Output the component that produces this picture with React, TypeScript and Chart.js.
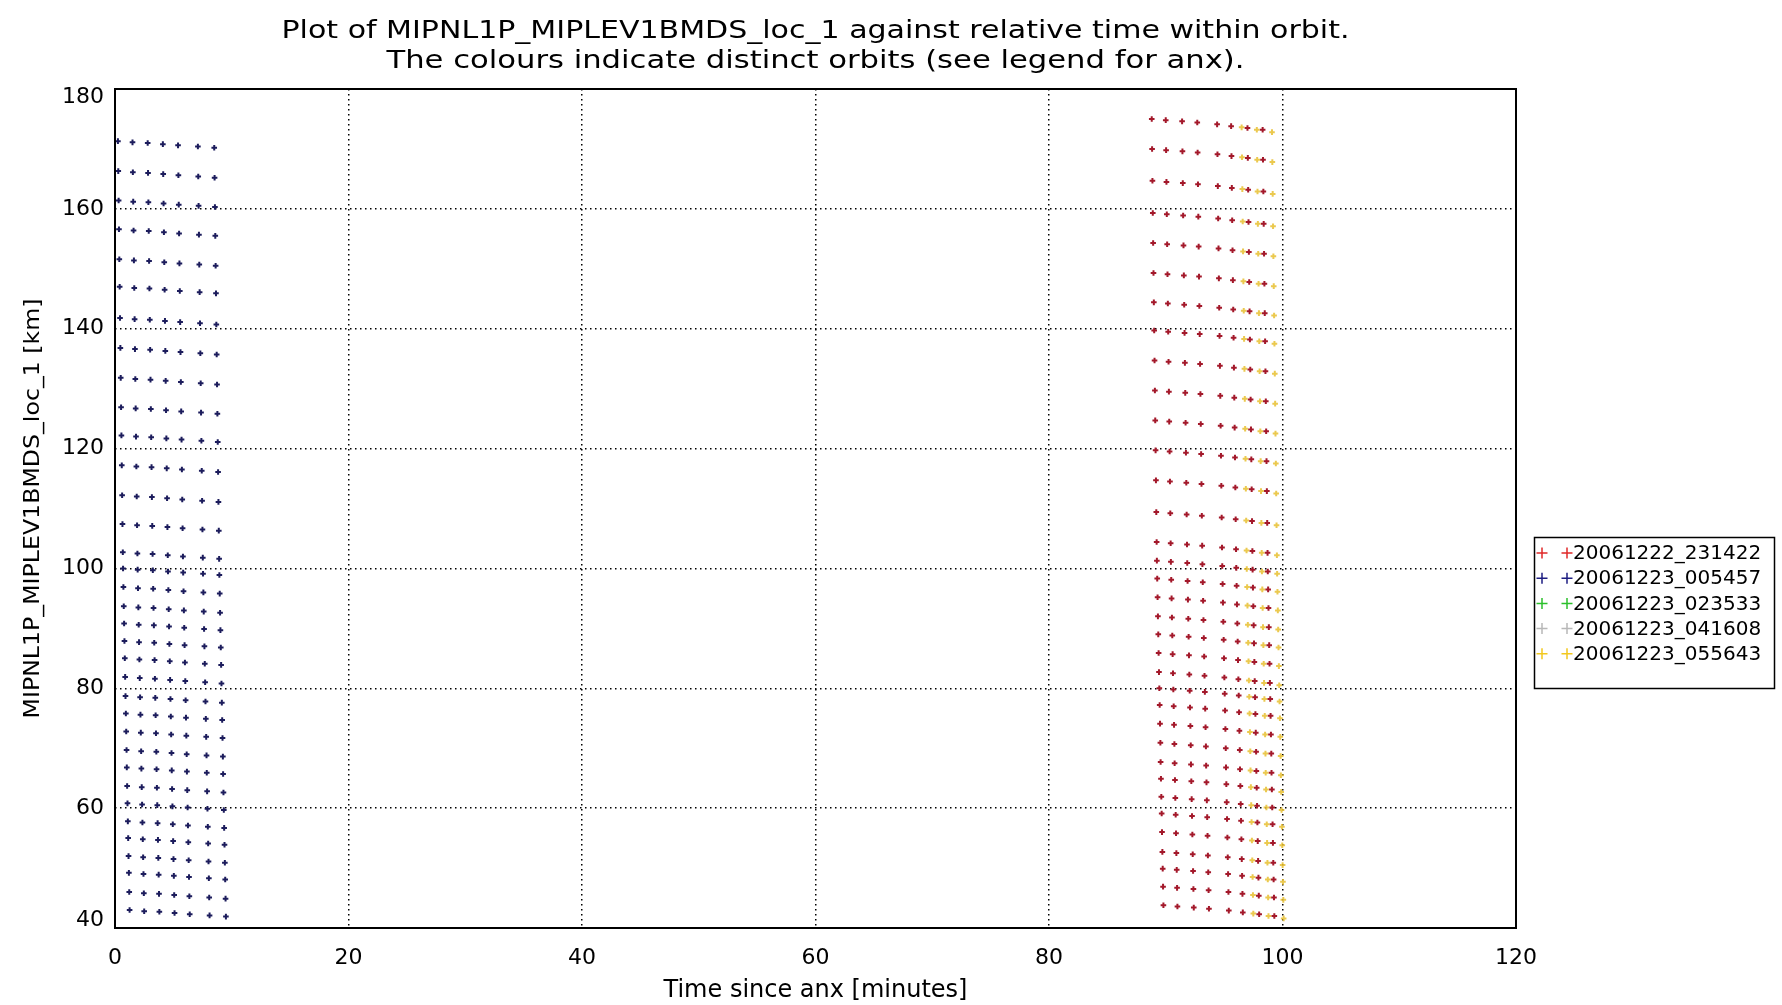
import React, { useEffect, useRef } from "react";
import { Chart, registerables } from "chart.js";

Chart.register(...registerables);

// ---- text ----
const titleLines = [
  "Plot of MIPNL1P_MIPLEV1BMDS_loc_1 against relative time within orbit.",
  "The colours indicate distinct orbits (see legend for anx).",
];
const xTitle = "Time since anx [minutes]";
const yTitle = "MIPNL1P_MIPLEV1BMDS_loc_1 [km]";
const xTicks = [0, 20, 40, 60, 80, 100, 120];
const yTicks = [40, 60, 80, 100, 120, 140, 160, 180];

// ---- legend ----
const orbitLabels = [
  "20061222_231422",
  "20061223_005457",
  "20061223_023533",
  "20061223_041608",
  "20061223_055643",
];
const legendColors = ["#e02828", "#1e1e82", "#2cc02c", "#b8b8b8", "#f2c81e"];
const pointColors = ["#a3182a", "#1c1c5c", "#2cc02c", "#c8c8c8", "rgba(232,192,48,0.85)"];

// ---- data ----
// tangent altitudes of one scan, top to bottom (km), orbit 231422 / 055643
const redAltitudes = [
  175.0, 170.0, 164.7, 159.3, 154.3, 149.3, 144.4, 139.7, 134.7, 129.7, 124.7, 119.7,
  114.7, 109.4, 104.4, 101.3, 98.3, 95.2, 92.0, 89.0, 85.9, 82.7, 80.0, 77.2, 74.1,
  70.9, 67.7, 64.9, 61.9, 59.1, 56.0, 52.7, 49.9, 46.9, 43.8,
];
// tangent altitudes of one scan, orbit 005457
const blueAltitudes = [
  171.3, 166.3, 161.4, 156.6, 151.6, 147.0, 141.8, 136.8, 131.8, 126.9, 122.2, 117.2,
  112.2, 107.4, 102.7, 100.0, 96.9, 93.7, 90.8, 87.9, 85.0, 81.9, 78.7, 75.8, 72.8,
  69.7, 66.8, 63.7, 60.8, 57.8, 55.0, 52.0, 49.2, 46.0, 43.0,
];
// time within a scan at which each altitude is reached (minutes after scan start)
const sweepOffsets = [
  0, 0.03, 0.06, 0.09, 0.12, 0.15, 0.18, 0.21, 0.24, 0.27, 0.3, 0.33, 0.36, 0.39,
  0.42, 0.44, 0.47, 0.5, 0.53, 0.56, 0.59, 0.62, 0.65, 0.68, 0.71, 0.74, 0.76, 0.79,
  0.82, 0.85, 0.88, 0.91, 0.94, 0.97, 1.0,
];
// scan start times (minutes since anx) and altitude drift of each scan (km)
const redScanStarts = [88.8, 90.0, 91.4, 92.7, 94.4, 95.6, 97.0, 98.3];
const redScanDrift = [0, -0.2, -0.4, -0.6, -0.9, -1.2, -1.5, -1.8];
const blueScanStarts = [0.25, 1.5, 2.8, 4.1, 5.4, 7.1, 8.5];
const blueScanDrift = [0, -0.2, -0.3, -0.5, -0.7, -0.9, -1.1];
const yellowScanStarts = [96.5, 97.8, 99.1];
const yellowScanDrift = [-1.4, -1.8, -2.2];

function scanPoints(starts: number[], drift: number[], alts: number[]) {
  const pts: { x: number; y: number }[] = [];
  starts.forEach((t, c) => {
    alts.forEach((a, r) => {
      pts.push({ x: t + sweepOffsets[r], y: a + drift[c] });
    });
  });
  return pts;
}

const FONT = '"DejaVu Sans", "Liberation Sans", sans-serif';

function stretchedText(ctx: any, text: string, x: number, y: number, width: number) {
  const w = ctx.measureText(text).width;
  ctx.save();
  ctx.translate(x, y);
  ctx.scale(width / w, 1);
  ctx.fillText(text, 0, 0);
  ctx.restore();
}

const overlay = {
  id: "overlay",
  afterDraw(chart: any) {
    const { ctx, chartArea: a, scales } = chart;
    ctx.save();
    // plot frame
    ctx.strokeStyle = "#000";
    ctx.lineWidth = 2;
    ctx.strokeRect(a.left, a.top, a.right - a.left, a.bottom - a.top);

    ctx.fillStyle = "#000";
    // y tick labels
    ctx.font = `22px ${FONT}`;
    ctx.textAlign = "right";
    ctx.textBaseline = "middle";
    yTicks.forEach((v) => {
      let y = scales.y.getPixelForValue(v);
      y = Math.min(Math.max(y, a.top + 8), a.bottom - 8);
      ctx.fillText(String(v), a.left - 11, y);
    });
    // x tick labels
    ctx.textAlign = "center";
    xTicks.forEach((v) => {
      ctx.fillText(String(v), scales.x.getPixelForValue(v), a.bottom + 30);
    });
    // titles
    const cx = (a.left + a.right) / 2;
    ctx.font = `24px ${FONT}`;
    stretchedText(ctx, titleLines[0], cx, 31.5, 1068);
    stretchedText(ctx, titleLines[1], cx, 61.5, 858);
    ctx.fillText(xTitle, cx, 991);
    ctx.save();
    ctx.translate(33, (a.top + a.bottom) / 2);
    ctx.rotate(-Math.PI / 2);
    ctx.font = `22px ${FONT}`;
    stretchedText(ctx, yTitle, 0, 0, 420);
    ctx.restore();

    // legend
    const lx = 1534.5, ly = 537.5, lw = 240, lh = 151;
    ctx.lineWidth = 1.5;
    ctx.strokeStyle = "#000";
    ctx.strokeRect(lx, ly, lw, lh);
    ctx.font = `20px ${FONT}`;
    ctx.textAlign = "left";
    orbitLabels.forEach((lab, i) => {
      const y = 553 + i * 25.2;
      [1542, 1567].forEach((x) => {
        ctx.strokeStyle = legendColors[i];
        ctx.lineWidth = 1.5;
        ctx.beginPath();
        ctx.moveTo(x - 5.5, y);
        ctx.lineTo(x + 5.5, y);
        ctx.moveTo(x, y - 5.5);
        ctx.lineTo(x, y + 5.5);
        ctx.stroke();
      });
      ctx.fillStyle = "#000";
      ctx.fillText(lab, 1573, y + 1);
    });
    ctx.restore();
  },
};

export default function App() {
  const ref = useRef<HTMLCanvasElement | null>(null);

  useEffect(() => {
    if (!ref.current) return;
    const mk = (i: number, data: { x: number; y: number }[]) => ({
      label: orbitLabels[i],
      data,
      showLine: false,
      pointStyle: "cross" as const,
      pointRadius: 2.8,
      pointBorderWidth: 2,
      borderColor: pointColors[i],
      backgroundColor: pointColors[i],
    });
    const chart = new Chart(ref.current, {
      type: "scatter",
      data: {
        datasets: [
          mk(0, scanPoints(redScanStarts, redScanDrift, redAltitudes)),
          mk(1, scanPoints(blueScanStarts, blueScanDrift, blueAltitudes)),
          mk(2, []),
          mk(3, []),
          mk(4, scanPoints(yellowScanStarts, yellowScanDrift, redAltitudes)),
        ],
      },
      options: {
        animation: false,
        responsive: false,
        devicePixelRatio: 1,
        layout: { padding: { left: 15, right: 266, top: 89, bottom: 27 } },
        plugins: {
          legend: { display: false },
          title: { display: false },
          tooltip: { enabled: false },
        },
        scales: {
          x: {
            type: "linear",
            min: 0,
            max: 120,
            afterFit: (s: any) => {
              s.height = 50;
            },
            ticks: { stepSize: 20, display: false },
            border: { display: false, dash: [1.5, 3.5] },
            grid: {
              color: "#000",
              lineWidth: 1.5,
              drawTicks: false,
            },
          },
          y: {
            type: "linear",
            min: 40,
            max: 180,
            afterFit: (s: any) => {
              s.width = 100;
            },
            ticks: { stepSize: 20, display: false },
            border: { display: false, dash: [1.5, 3.5] },
            grid: {
              color: "#000",
              lineWidth: 1.5,
              drawTicks: false,
            },
          },
        },
      },
      plugins: [overlay],
    } as any);
    return () => chart.destroy();
  }, []);

  return (
    <div style={{ position: "absolute", left: 0, top: 0, width: 1782, height: 1005, background: "#fff" }}>
      <canvas ref={ref} width={1782} height={1005} />
    </div>
  );
}
